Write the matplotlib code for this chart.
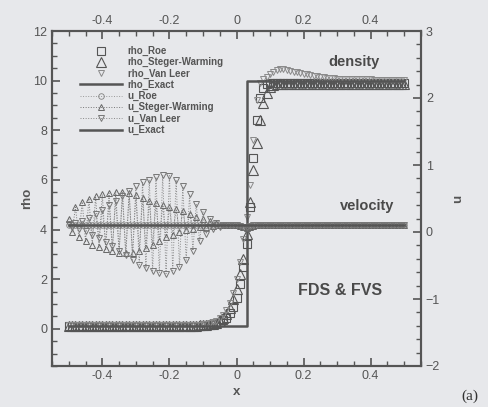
import matplotlib
matplotlib.use("Agg")
import matplotlib.pyplot as plt
from matplotlib.ticker import MultipleLocator
import numpy as np

plt.rcParams['font.family'] = ['Liberation Sans', 'DejaVu Sans']

# grid points, x = -0.5 ... 0.5
x = np.linspace(-0.5, 0.5, 101)

# density
rho_roe = ([0.12] * 38
           + [0.13, 0.13, 0.14, 0.15, 0.17, 0.19, 0.22, 0.27, 0.34, 0.45, 0.62, 0.88]
           + [1.25, 1.8, 2.5, 3.4, 4.9, 6.9, 8.4, 9.3, 9.7, 9.85]
           + [9.9] * 41)
rho_sw = ([0.12] * 38
          + [0.13, 0.14, 0.15, 0.16, 0.18, 0.21, 0.25, 0.32, 0.42, 0.6, 0.85, 1.2]
          + [1.6, 2.2, 2.8, 3.8, 5.1, 6.4, 7.5, 8.4, 9.1, 9.5]
          + [9.75, 9.82] + [9.85] * 39)
rho_vl = ([0.15] * 38
          + [0.16, 0.17, 0.18, 0.2, 0.23, 0.27, 0.33, 0.42, 0.56, 0.76, 1.05, 1.45]
          + [2.0, 2.7, 3.6, 4.5, 5.8, 7.6, 9.2, 9.9, 10.05, 10.15]
          + [10.25, 10.35, 10.42, 10.45, 10.45, 10.42, 10.4, 10.36, 10.33, 10.3, 10.28]
          + [10.25, 10.22, 10.2, 10.18, 10.16, 10.14, 10.12, 10.1, 10.09, 10.08]
          + [10.05] * 10 + [10.02] * 10)
x_exact = [-0.5, 0.03, 0.03, 0.5]
rho_exact = [0.1, 0.1, 10.0, 10.0]

# velocity
u_roe = [0.1] * 51 + [0.09, 0.08, 0.08, 0.09] + [0.1] * 46
u_sw = ([0.20, 0.00, 0.37, -0.08, 0.45, -0.14, 0.50, -0.19, 0.53, -0.23,
         0.56, -0.26, 0.58, -0.29, 0.60, -0.31, 0.60, -0.32, 0.58, -0.31,
         0.55, -0.28, 0.51, -0.24, 0.47, -0.19, 0.43, -0.13, 0.40, -0.08,
         0.37, -0.04, 0.34, 0.00, 0.31, 0.03, 0.27, 0.05, 0.23, 0.07,
         0.19, 0.08, 0.16, 0.09, 0.13, 0.10]
        + [0.1] * 5 + [0.09, 0.07, 0.06, 0.08, 0.09] + [0.1] * 45)
u_vl = ([0.12, 0.08, 0.14, 0.05, 0.17, 0.01, 0.21, -0.04, 0.27, -0.09,
         0.33, -0.15, 0.40, -0.21, 0.47, -0.28, 0.54, -0.35, 0.61, -0.42,
         0.68, -0.49, 0.74, -0.54, 0.78, -0.58, 0.82, -0.61, 0.85, -0.62,
         0.84, -0.58, 0.78, -0.52, 0.68, -0.42, 0.56, -0.28, 0.42, -0.14,
         0.30, -0.03, 0.20, 0.04, 0.14, 0.08]
        + [0.1] * 5 + [0.09, 0.08, 0.07, 0.09, 0.1] + [0.1] * 45)
u_exact = [0.1, 0.1]
x_u_exact = [-0.5, 0.5]

bg = '#e7e8eb'
ink = '#555555'

fig = plt.figure(figsize=(4.88, 4.07), dpi=100, facecolor=bg)
ax = fig.add_axes([52 / 488, 1 - 366 / 407, 369 / 488, 335 / 407])
ax.set_facecolor(bg)
ax2 = ax.twinx()

h1, = ax.plot(x, rho_roe, 's', ms=6, mfc='none', mec=ink, mew=0.8, label='rho_Roe')
h2, = ax.plot(x, rho_sw, '^', ms=7, mfc='none', mec=ink, mew=0.8, label='rho_Steger-Warming')
h3, = ax.plot(x, rho_vl, 'v', ms=5, mfc='none', mec='#8a8a8a', mew=0.7, label='rho_Van Leer')
h4, = ax.plot(x_exact, rho_exact, '-', color=ink, lw=1.8, label='rho_Exact')

h5, = ax2.plot(x, u_roe, ':', color='#999999', lw=0.7, marker='o', ms=4,
               mfc='none', mec='#808080', mew=0.6, label='u_Roe')
h6, = ax2.plot(x, u_sw, ':', color='#777777', lw=0.7, marker='^', ms=4.5,
               mfc='none', mec='#666666', mew=0.7, label='u_Steger-Warming')
h7, = ax2.plot(x, u_vl, ':', color='#888888', lw=0.7, marker='v', ms=4.5,
               mfc='none', mec='#777777', mew=0.7, label='u_Van Leer')
h8, = ax2.plot(x_u_exact, u_exact, '-', color=ink, lw=1.8, label='u_Exact')

ax.set_xlim(-0.55, 0.55)
ax.set_ylim(-1.5, 12)
ax2.set_ylim(-2, 3)

ax.xaxis.set_major_locator(MultipleLocator(0.2))
ax.xaxis.set_minor_locator(MultipleLocator(0.05))
ax.yaxis.set_major_locator(MultipleLocator(2))
ax.yaxis.set_minor_locator(MultipleLocator(0.5))
ax2.yaxis.set_major_locator(MultipleLocator(1))
ax2.yaxis.set_minor_locator(MultipleLocator(0.2))

ax.set_xticks([-0.4, -0.2, 0, 0.2, 0.4])
ax.set_xticklabels(['-0.4', '-0.2', '0', '0.2', '0.4'])

for a in (ax, ax2):
    a.tick_params(which='major', direction='in', length=6, width=1.2, color=ink,
                  labelcolor=ink, labelsize=9)
    a.tick_params(which='minor', direction='in', length=3.5, width=1.0, color=ink)
    for s in a.spines.values():
        s.set_color(ink)
        s.set_linewidth(1.5)
ax.tick_params(which='both', top=True, labeltop=True, right=False)
ax.tick_params(axis='x', which='major', pad=3)

ax.set_xlabel('x', color=ink, fontsize=9.5, fontweight='bold', labelpad=3)
ax.set_ylabel('rho', color=ink, fontsize=9.5, fontweight='bold', labelpad=0)
ax2.set_ylabel('u', color=ink, fontsize=9.5, fontweight='bold', labelpad=9)

ax.text(0.35, 10.75, 'density', color='#4a4a4a', fontsize=10.5, fontweight='bold',
        ha='center', va='center')
ax2.text(0.39, 0.39, 'velocity', color='#4a4a4a', fontsize=10.5, fontweight='bold',
         ha='center', va='center')
ax2.text(0.31, -0.88, 'FDS & FVS', color='#4a4a4a', fontsize=11.5, fontweight='bold',
         ha='center', va='center')

fig.text(470 / 488, 1 - 396 / 407, '(a)', family=['Liberation Serif', 'DejaVu Serif'],
         fontsize=11, color='#333333', ha='center', va='center')

fig.legend(handles=[h1, h2, h3, h4, h5, h6, h7, h8], loc='upper left',
           bbox_to_anchor=(80 / 488, 1 - 46 / 407), frameon=False,
           labelspacing=0.12, handlelength=4.3, handletextpad=0.6,
           borderpad=0, borderaxespad=0, labelcolor=ink, prop={'weight': 'bold', 'size': 7})

fig.savefig('out.png', dpi=100, facecolor=bg)
